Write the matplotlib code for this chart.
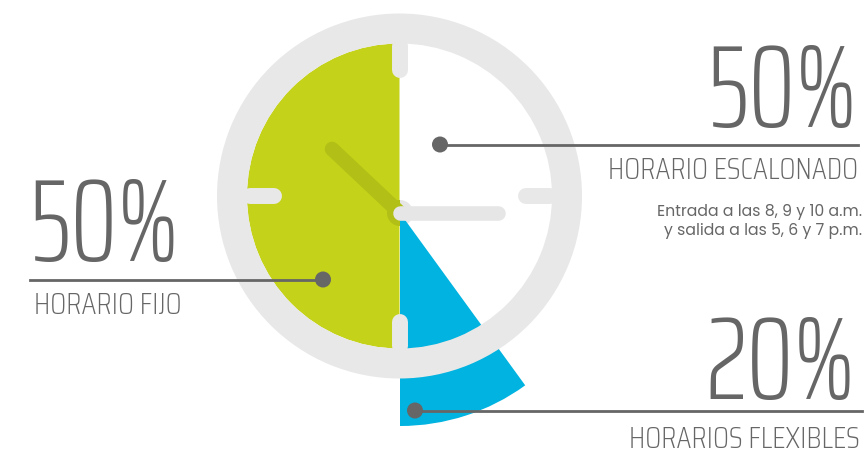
import matplotlib
matplotlib.use("Agg")
import matplotlib.pyplot as plt
from matplotlib import patches, font_manager

# datos
etiquetas = ["HORARIO FIJO", "HORARIO ESCALONADO", "HORARIOS FLEXIBLES"]
porcentajes = [50, 50, 20]
nota = ["Entrada a las 8, 9 y 10 a.m.", "y salida a las 5, 6 y 7 p.m."]

verde = "#c4d219"
azul = "#00b3e0"
gris_aro = "#e8e8e8"
gris_txt = "#666666"


def primera(cands):
    disponibles = {f.name for f in font_manager.fontManager.ttflist}
    for c in cands:
        if c in disponibles:
            return c
    return "DejaVu Sans"


fuente_num = primera(["Saira ExtraCondensed", "Roboto Condensed"])
fuente_tit = primera(["Saira Condensed", "Roboto Condensed"])
fuente_nota = primera(["Poppins", "Lato", "DejaVu Sans"])

fig = plt.figure(figsize=(8.68, 4.53), dpi=100)
ax = fig.add_axes([0, 0, 1, 1])
ax.set_xlim(0, 868)
ax.set_ylim(453, 0)   # coordenadas en pixeles, y hacia abajo
ax.set_aspect("equal")
ax.axis("off")

cx, cy = 399.5, 196       # centro del reloj
R, r = 182.5, 152.5       # radios del aro
px, py = 400, 213         # eje de las manecillas

# mitad verde (horario fijo)
ang_fijo = porcentajes[0] / 100 * 360
ax.add_patch(patches.Wedge((cx, cy), r, 90, 90 + ang_fijo, color=verde, lw=0))

# manecillas
ax.plot([332, px], [149, py], color="#b1bf17", lw=10.5, solid_capstyle="round")
ax.plot([px, 497.5], [py, py], color="#e6e6e6", lw=10.5, solid_capstyle="round")
ax.add_patch(patches.Wedge((px, py), 13, 90, 270, color="#b1bf17", lw=0))
ax.add_patch(patches.Wedge((px, py), 13, -90, 90, color="#e6e6e6", lw=0))

# sector azul (flexibles)
ang_flex = porcentajes[2] / 100 * 180
ax.add_patch(patches.Wedge((px, py), 213, 90 - ang_flex, 90, color=azul, lw=0))

# aro
ax.add_patch(patches.Wedge((cx, cy), R, 0, 360, width=R - r, color=gris_aro, lw=0))

# marcas de las horas
for dx, dy in [(0, -1), (1, 0), (0, 1), (-1, 0)]:
    ax.plot([cx + dx * 150, cx + dx * 126], [cy + dy * 150, cy + dy * 126],
            color=gris_aro, lw=11.5, solid_capstyle="round")

# lineas guia y puntos
ax.plot([440, 858], [145, 145], color=gris_txt, lw=2)
ax.plot([30, 323], [279.5, 279.5], color=gris_txt, lw=2)
ax.plot([415, 862], [410.5, 410.5], color=gris_txt, lw=2)
for x, y in [(440, 144.5), (323, 279.5), (415, 410.5)]:
    ax.add_patch(patches.Circle((x, y), 8, color=gris_txt, lw=0))

# textos
grande = dict(family=fuente_num, weight=275, fontsize=85, color=gris_txt, va="baseline")
medio = dict(family=fuente_tit, weight=275, fontsize=22, color=gris_txt, va="baseline")
chico = dict(family=fuente_nota, weight="normal", fontsize=11.3, color=gris_txt,
             va="baseline", ha="right")

ax.text(858, 126.5, f"{porcentajes[1]}%", ha="right", **grande)
ax.text(858, 179.3, etiquetas[1], ha="right", **medio)
ax.text(862, 215.7, nota[0], **chico)
ax.text(862, 235, nota[1], **chico)

ax.text(30, 261.5, f"{porcentajes[0]}%", ha="left", **grande)
ax.text(34, 314.3, etiquetas[0], ha="left", **medio)

ax.text(856, 399.3, f"{porcentajes[2]}%", ha="right", **grande)
ax.text(860, 448, etiquetas[2], ha="right", **medio)

fig.savefig("out.png", dpi=100)
